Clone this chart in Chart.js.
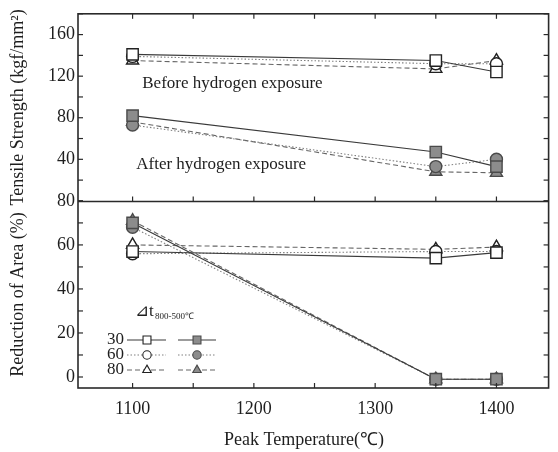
<!DOCTYPE html>
<html>
<head>
<meta charset="utf-8">
<script src="https://cdn.jsdelivr.net/npm/chart.js@4"></script>
<style>
  html, body { margin: 0; padding: 0; background: #fff; }
</style>
</head>
<body>
<canvas id="chart" width="558" height="452"></canvas>
<script>
// --- DATA ---
const peakTemps = [1100, 1350, 1400];
const coolTimes = ['30', '60', '80'];

// tensile strength (kgf/mm2)
const tsBefore30 = [141, 135, 124];
const tsBefore60 = [139, 132, 132];
const tsBefore80 = [135, 127, 135];
const tsAfter30 = [82, 47, 33];
const tsAfter60 = [73, 33, 40];
const tsAfter80 = [76, 28, 27];

// reduction of area (%)
const raBefore30 = [57, 54, 56.5];
const raBefore60 = [56, 57, 57];
const raBefore80 = [60, 58, 59];
const raAfter30 = [70, -1, -1];
const raAfter60 = [68, -1, -1];
const raAfter80 = [71, -1, -1];

// ticks
const xTickValues = [1100, 1150, 1200, 1250, 1300, 1350, 1400];
const xTickLabels = [1100, 1200, 1300, 1400];
const tsTickValues = [0, 20, 40, 60, 80, 100, 120, 140, 160, 180];
const tsTickLabels = [40, 80, 120, 160];
const raTickValues = [0, 10, 20, 30, 40, 50, 60, 70, 80];
const raTickLabels = [0, 20, 40, 60, 80];

// --- STYLES ---
const SERIF = '"Liberation Serif", "Times New Roman", serif';
const INK = '#1e1e1e';
const lineStyle = {
    '30': { dash: [], color: '#3a3a3a', point: 'rect', radius: 8 },
    '60': { dash: [1.5, 2], color: '#808080', point: 'circle', radius: 6 },
    '80': { dash: [5, 3], color: '#666', point: 'triangle', radius: 7 }
};
const OPEN_FILL = '#ffffff';
const SOLID_FILL = '#8c8c8c';

function series(values, time, filled, axis) {
    const s = lineStyle[time];
    return {
        data: peakTemps.map((t, i) => ({ x: t, y: values[i] })),
        yAxisID: axis,
        borderColor: s.color,
        borderWidth: 1.1,
        borderDash: s.dash,
        pointStyle: s.point,
        pointRadius: s.radius,
        pointBorderWidth: 1.4,
        pointBorderColor: filled ? '#4a4a4a' : '#222',
        pointBackgroundColor: filled ? SOLID_FILL : OPEN_FILL,
        tension: 0
    };
}

const datasets = [
    series(tsBefore30, '30', false, 'ts'),
    series(tsBefore60, '60', false, 'ts'),
    series(tsBefore80, '80', false, 'ts'),
    series(tsAfter30, '30', true, 'ts'),
    series(tsAfter60, '60', true, 'ts'),
    series(tsAfter80, '80', true, 'ts'),
    series(raAfter30, '30', true, 'ra'),
    series(raAfter60, '60', true, 'ra'),
    series(raAfter80, '80', true, 'ra'),
    series(raBefore30, '30', false, 'ra'),
    series(raBefore60, '60', false, 'ra'),
    series(raBefore80, '80', false, 'ra')
];

// --- FRAME, INWARD TICKS, NOTES, LEGEND ---
function seg(ctx, x1, y1, x2, y2) {
    ctx.beginPath();
    ctx.moveTo(x1, y1);
    ctx.lineTo(x2, y2);
    ctx.stroke();
}

function marker(ctx, style, filled, radius, x, y) {
    ctx.save();
    ctx.setLineDash([]);
    ctx.fillStyle = filled ? SOLID_FILL : OPEN_FILL;
    ctx.strokeStyle = filled ? '#4a4a4a' : '#222';
    Chart.helpers.drawPoint(ctx, { pointStyle: style, radius: radius, borderWidth: 1.2, rotation: 0 }, x, y);
    ctx.restore();
}

const framePlugin = {
    id: 'frame',
    afterDatasetsDraw(chart) {
        const { ctx, chartArea: a, scales } = chart;
        const xs = scales.x, top = scales.ts, bot = scales.ra;
        const mid = Math.round(bot.top) + 0.5;
        const T = 5;

        ctx.save();
        ctx.strokeStyle = '#2a2a2a';
        ctx.lineWidth = 1.6;
        ctx.strokeRect(a.left, a.top, a.right - a.left, a.bottom - a.top);
        seg(ctx, a.left, mid, a.right, mid);

        ctx.lineWidth = 1.2;
        xTickValues.forEach(v => {
            const px = xs.getPixelForValue(v);
            seg(ctx, px, a.top, px, a.top + T);
            seg(ctx, px, mid - T, px, mid);
            seg(ctx, px, a.bottom - T, px, a.bottom);
        });
        [[top, tsTickValues], [bot, raTickValues]].forEach(([sc, vals]) => {
            vals.forEach(v => {
                const py = sc.getPixelForValue(v);
                seg(ctx, a.left, py, a.left + T, py);
                seg(ctx, a.right - T, py, a.right, py);
            });
        });

        // notes inside the upper panel
        ctx.fillStyle = INK;
        ctx.font = '17px ' + SERIF;
        ctx.textBaseline = 'middle';
        ctx.textAlign = 'left';
        ctx.fillText('Before hydrogen exposure', xs.getPixelForValue(1108), top.getPixelForValue(113));
        ctx.fillText('After hydrogen exposure', xs.getPixelForValue(1103), top.getPixelForValue(35));

        // x axis title
        ctx.textAlign = 'center';
        ctx.font = '18px ' + SERIF;
        ctx.fillText('Peak Temperature(\u2103)', 304, 440);

        // legend
        ctx.textAlign = 'left';
        ctx.font = '17px "DejaVu Sans", sans-serif';
        ctx.fillText('\u22BF', 135, 312);
        ctx.font = '17px ' + SERIF;
        ctx.fillText('t', 149, 312);
        ctx.font = '9px ' + SERIF;
        ctx.fillText('800-500\u2103', 155, 317);

        ctx.font = '17px ' + SERIF;
        ctx.textAlign = 'right';
        const rows = [340, 355, 370];
        coolTimes.forEach((t, i) => {
            const s = lineStyle[t];
            const y = rows[i];
            ctx.fillStyle = INK;
            ctx.fillText(t, 124, y);
            ctx.strokeStyle = s.color;
            ctx.lineWidth = 1.1;
            ctx.setLineDash(s.dash);
            seg(ctx, 127, y, 166, y);
            seg(ctx, 178, y, 216, y);
            ctx.setLineDash([]);
            const r = s.radius * 0.7;
            marker(ctx, s.point, false, r, 147, y);
            marker(ctx, s.point, true, r, 197, y);
        });
        ctx.restore();
    }
};

// --- CHART ---
const tickFont = { family: SERIF, size: 18 };
const titleFont = { family: SERIF, size: 18 };

// the first axis of a stack is laid out at the bottom
new Chart(document.getElementById('chart'), {
    type: 'line',
    data: { datasets: datasets },
    options: {
        responsive: false,
        animation: false,
        layout: { padding: { top: 10, right: 2, left: 0, bottom: 0 } },
        plugins: { legend: { display: false }, tooltip: { enabled: false } },
        scales: {
            x: {
                type: 'linear',
                min: 1055,
                max: 1443,
                grid: { display: false, drawTicks: false },
                border: { display: false },
                afterBuildTicks: s => { s.ticks = xTickValues.map(v => ({ value: v })); },
                afterFit: s => { s.height = 64; },
                ticks: {
                    autoSkip: false,
                    maxRotation: 0,
                    padding: 10,
                    color: INK,
                    font: tickFont,
                    callback: v => xTickLabels.includes(v) ? String(v) : ''
                }
            },
            ra: {
                type: 'linear',
                position: 'left',
                stack: 'panels',
                stackWeight: 1,
                min: -5,
                max: 80,
                grid: { display: false, drawTicks: false },
                border: { display: false },
                afterBuildTicks: s => { s.ticks = raTickValues.map(v => ({ value: v })); },
                afterFit: s => { s.width = 78; },
                ticks: {
                    autoSkip: false,
                    padding: 3,
                    color: INK,
                    font: tickFont,
                    callback: v => raTickLabels.includes(v) ? String(v) : ''
                },
                title: {
                    display: true,
                    text: 'Reduction of Area (%)',
                    color: INK,
                    font: titleFont,
                    padding: { top: 7, bottom: 0 }
                }
            },
            ts: {
                type: 'linear',
                position: 'left',
                stack: 'panels',
                stackWeight: 1,
                min: 0,
                max: 180,
                grid: { display: false, drawTicks: false },
                border: { display: false },
                afterBuildTicks: s => { s.ticks = tsTickValues.map(v => ({ value: v })); },
                afterFit: s => { s.width = 78; },
                ticks: {
                    autoSkip: false,
                    padding: 3,
                    color: INK,
                    font: tickFont,
                    callback: v => tsTickLabels.includes(v) ? String(v) : ''
                },
                title: {
                    display: true,
                    text: 'Tensile Strength (kgf/mm\u00B2)',
                    color: INK,
                    font: titleFont,
                    padding: { top: 7, bottom: 0 }
                }
            }
        }
    },
    plugins: [framePlugin]
});
</script>
</body>
</html>
